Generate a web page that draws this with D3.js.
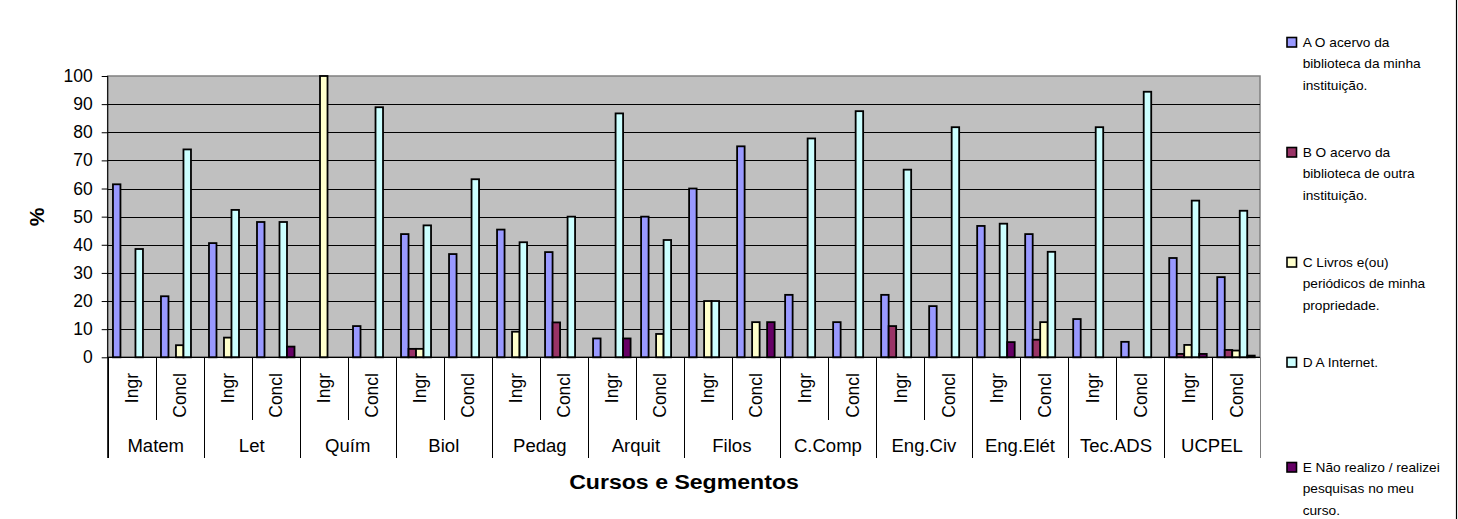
<!DOCTYPE html>
<html><head><meta charset="utf-8">
<script src="https://cdn.jsdelivr.net/npm/d3@7"></script>
<style>
html,body{margin:0;padding:0;background:#fff;}
svg{display:block;}
text{font-family:"Liberation Sans",Arial,Helvetica,sans-serif;fill:#000;}
</style></head>
<body>
<svg id="chart" width="1458" height="519"></svg>
<script>
// ---- data ----
const groups = ["Matem","Let","Quím","Biol","Pedag","Arquit","Filos","C.Comp","Eng.Civ","Eng.Elét","Tec.ADS","UCPEL"];
const segments = ["Ingr","Concl"];
const seriesKeys = ["A","B","C","D","E"];
const seriesLabels = [
  ["A O acervo da","biblioteca da minha","instituição."],
  ["B O acervo da","biblioteca de outra","instituição."],
  ["C Livros e(ou)","periódicos de minha","propriedade."],
  ["D A Internet."],
  ["E Não realizo / realizei","pesquisas no meu","curso."]
];
const seriesA = [61.5,21.7, 40.6,48.1, 0,11.1, 43.8,36.7, 45.4,37.4, 6.7,50.0, 60.0,75.0, 22.2,12.5, 22.2,18.2, 46.7,43.8, 13.6,5.5, 35.3,28.5];
const seriesB = [0,0, 0,0, 0,0, 3.0,0, 0,12.4, 0,0, 0,0, 0,0, 11.1,0, 0,6.25, 0,0, 1.2,2.6];
const seriesC = [0,4.3, 7.0,0, 100,0, 3.0,0, 9.1,0, 0,8.3, 20.0,12.5, 0,0, 0,0, 0,12.5, 0,0, 4.4,2.4];
const seriesD = [38.5,73.9, 52.4,48.1, 0,88.9, 46.9,63.3, 40.9,50.0, 86.7,41.7, 20.0,0, 77.8,87.5, 66.7,81.8, 47.5,37.5, 81.8,94.4, 55.7,52.1];
const seriesE = [0,0, 0,3.8, 0,0, 0,0, 0,0, 6.7,0, 0,12.5, 0,0, 0,0, 5.4,0, 0,0, 1.2,0.6];
const yTicks = [0,10,20,30,40,50,60,70,80,90,100];
const yTitle = "%";
const xTitle = "Cursos e Segmentos";

// ---- styles ----
const colors = {A:"#9999FF",B:"#993366",C:"#FFFFCC",D:"#CCFFFF",E:"#660066"};
const values = {A:seriesA,B:seriesB,C:seriesC,D:seriesD,E:seriesE};

const svg = d3.select("#chart");
const L = 107.7, R = 1260, T = 76, B = 357.3;

const cats = [];
groups.forEach(g => segments.forEach(s => cats.push(g + "|" + s)));

const x0 = d3.scaleBand().domain(cats).range([L, R]).padding(0);
const x1 = d3.scaleBand().domain(seriesKeys).range([0, x0.bandwidth()]).paddingInner(0).paddingOuter(0.7);
const y = d3.scaleLinear().domain([0,100]).range([B, T]);

// plot background
svg.append("rect").attr("x", L).attr("y", T).attr("width", R - L).attr("height", B - T)
  .attr("fill", "#C0C0C0").attr("stroke", "#808080").attr("stroke-width", 1.5);

// gridlines
svg.append("g").selectAll("line").data(yTicks.filter(t => t > 0 && t < 100)).join("line")
  .attr("x1", L).attr("x2", R).attr("y1", d => Math.round(y(d)) + 0.5).attr("y2", d => Math.round(y(d)) + 0.5)
  .attr("stroke", "#000").attr("stroke-width", 1);

// bars
const rows = cats.map((c, i) => ({cat: c, vals: seriesKeys.map(k => ({key: k, value: values[k][i]}))}));
svg.append("g").selectAll("g").data(rows).join("g")
  .attr("transform", d => `translate(${x0(d.cat)},0)`)
  .selectAll("rect").data(d => d.vals.filter(v => v.value > 0)).join("rect")
  .attr("x", d => x1(d.key)).attr("width", x1.bandwidth())
  .attr("y", d => y(d.value)).attr("height", d => y(0) - y(d.value))
  .attr("fill", d => colors[d.key]).attr("stroke", "#000").attr("stroke-width", 1.8);

// y axis
const yAxis = d3.axisLeft(y).tickValues(yTicks).tickSize(6).tickPadding(9);
const ya = svg.append("g").attr("transform", `translate(${L},0)`).call(yAxis);
ya.select(".domain").remove();
ya.selectAll(".tick line").attr("stroke", "#000");
ya.selectAll(".tick text").attr("font-size", 17.5).attr("font-family", '"Liberation Sans",Arial,sans-serif').attr("fill", "#000");
svg.append("line").attr("x1", L).attr("x2", L).attr("y1", T).attr("y2", 458).attr("stroke", "#000").attr("stroke-width", 1);

// x axis baseline
svg.append("line").attr("x1", L).attr("x2", R).attr("y1", B).attr("y2", B).attr("stroke", "#000").attr("stroke-width", 1.2);

// category separators
const bounds = d3.range(cats.length + 1);
svg.append("g").selectAll("line").data(bounds).join("line")
  .attr("x1", i => Math.round(L + i * x0.step()) + 0.5).attr("x2", i => Math.round(L + i * x0.step()) + 0.5)
  .attr("y1", B).attr("y2", i => (i % segments.length === 0) ? 458 : 420)
  .attr("stroke", i => (i === cats.length) ? "#808080" : "#000").attr("stroke-width", 1);

// segment labels (rotated)
svg.append("g").selectAll("text").data(cats).join("text")
  .attr("transform", d => `translate(${x0(d) + x0.bandwidth() / 2 + 0.5},373) rotate(-90)`)
  .attr("text-anchor", "end").attr("dy", "0.35em").attr("font-size", 17.5)
  .text(d => d.split("|")[1]);

// group labels
const gw = x0.step() * segments.length;
svg.append("g").selectAll("text").data(groups).join("text")
  .attr("transform", (d, i) => `translate(${L + gw * i + gw / 2},452) scale(1.06,1)`)
  .attr("text-anchor", "middle").attr("font-size", 17.5)
  .text(d => d);

// titles
svg.append("text").attr("transform", `translate(684,489) scale(1.1,1)`).attr("text-anchor", "middle")
  .attr("font-size", 21).attr("font-weight", "bold").text(xTitle);
svg.append("text").attr("transform", `translate(37,217) rotate(-90)`).attr("text-anchor", "middle")
  .attr("dy", "0.35em").attr("font-size", 21).attr("font-weight", "bold").text(yTitle);

// legend
const legendY = [42, 152, 262, 362, 467];
const lg = svg.append("g").selectAll("g").data(seriesKeys).join("g")
  .attr("transform", (d, i) => `translate(1287,${legendY[i]})`);
lg.append("rect").attr("x", 0).attr("y", -4.5).attr("width", 9.5).attr("height", 9.5)
  .attr("fill", d => colors[d]).attr("stroke", "#000").attr("stroke-width", 1.6);
lg.each(function(d, i) {
  const g = d3.select(this);
  seriesLabels[i].forEach((line, j) => {
    g.append("text").attr("x", 15.2).attr("y", 5 + j * 21.5).attr("font-size", 13.3)
      .attr("transform", "scale(1.03,1)").text(line);
  });
});

// frame line on the right
svg.append("line").attr("x1", 1456.5).attr("x2", 1456.5).attr("y1", 0).attr("y2", 519).attr("stroke", "#000").attr("stroke-width", 1.2);
</script>
</body></html>
